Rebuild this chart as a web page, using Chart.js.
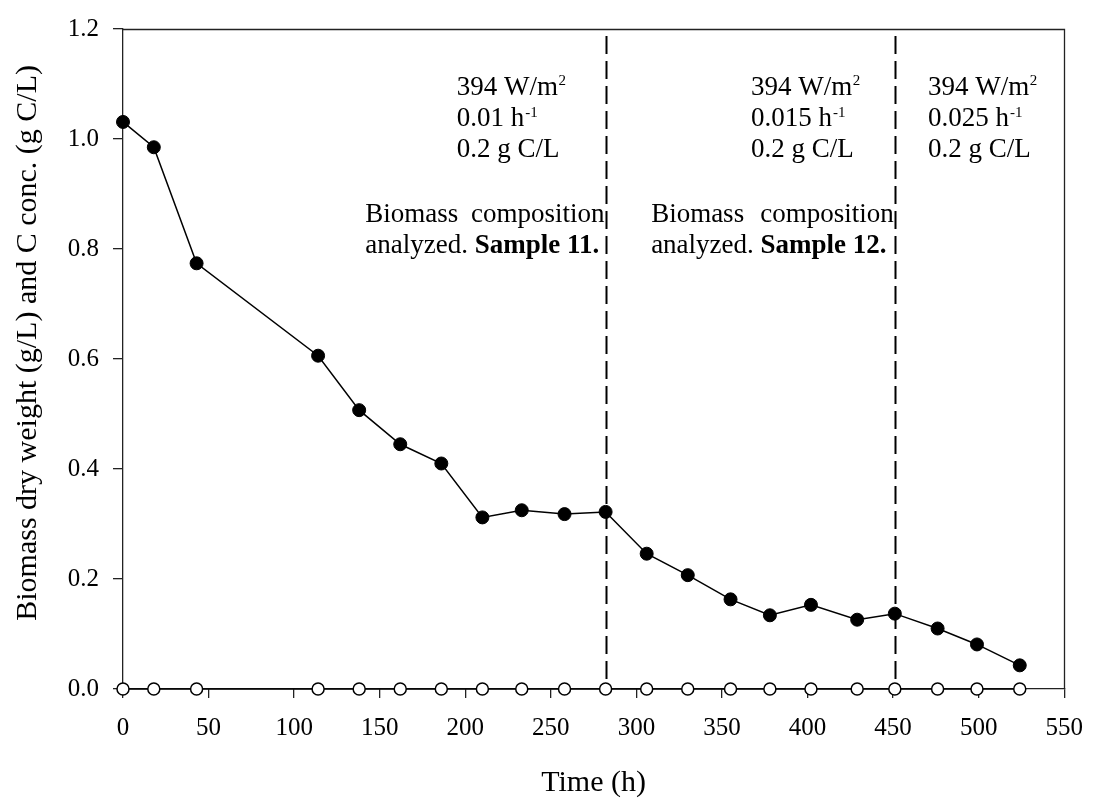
<!DOCTYPE html>
<html>
<head>
<meta charset="utf-8">
<script src="https://cdn.jsdelivr.net/npm/chart.js@4/dist/chart.umd.min.js"></script>
<style>
html,body{margin:0;padding:0;background:#fff;}
#wrap{width:1098px;height:798px;}
</style>
</head>
<body>
<div id="wrap"><canvas id="c" width="1098" height="798"></canvas></div>
<script>
// ---- data ----
const timeH   = [0, 18, 43, 114, 138, 162, 186, 210, 233, 258, 282, 306, 330, 355, 378, 402, 429, 451, 476, 499, 524];
const biomass = [1.031, 0.985, 0.774, 0.606, 0.507, 0.445, 0.410, 0.312, 0.325, 0.318, 0.322, 0.246, 0.207, 0.163, 0.134, 0.153, 0.126, 0.137, 0.110, 0.081, 0.043];
const carbon  = [0, 0, 0, 0, 0, 0, 0, 0, 0, 0, 0, 0, 0, 0, 0, 0, 0, 0, 0, 0, 0];
const xTicks  = [0, 50, 100, 150, 200, 250, 300, 350, 400, 450, 500, 550];
const yTicks  = [0, 0.2, 0.4, 0.6, 0.8, 1.0, 1.2];
const phaseLines = [282, 451];

// annotation text (anchored in data units)
const condX      = [195, 367, 470.4];
const condPower  = ['394 W/m', '394 W/m', '394 W/m'];
const condRate   = ['0.01 h', '0.015 h', '0.025 h'];
const condConc   = ['0.2 g C/L', '0.2 g C/L', '0.2 g C/L'];
const condLineY  = [1.080, 1.023, 0.967];
const sampleX    = [141.6, 308.6];
const sampleName = ['Sample 11.', 'Sample 12.'];
const sampleLineY = [0.849, 0.792];

const xTitle = 'Time (h)';
const yTitle = 'Biomass dry weight (g/L) and C conc. (g C/L)';

const SERIF = '"Liberation Serif", "Times New Roman", serif';
const AXIS = '#222';

const overlay = {
  id: 'overlay',
  beforeDatasetsDraw(chart) {
    const {ctx, chartArea: a, scales: {x}} = chart;
    ctx.save();
    ctx.strokeStyle = '#000';
    ctx.lineWidth = 2;
    ctx.setLineDash([18, 7]);
    phaseLines.forEach(v => {
      const px = Math.round(x.getPixelForValue(v)) + 0.5;
      ctx.beginPath();
      ctx.moveTo(px, a.top + 7);
      ctx.lineTo(px, a.bottom);
      ctx.stroke();
    });
    ctx.restore();
  },
  afterDraw(chart) {
    const {ctx, chartArea: a, scales: {x, y}} = chart;
    ctx.save();
    // frame top & right
    ctx.strokeStyle = AXIS;
    ctx.lineWidth = 1.3;
    ctx.beginPath();
    ctx.moveTo(a.left, Math.round(a.top) + 0.5);
    ctx.lineTo(Math.round(a.right) + 0.5, Math.round(a.top) + 0.5);
    ctx.lineTo(Math.round(a.right) + 0.5, a.bottom);
    ctx.stroke();

    ctx.fillStyle = '#000';
    ctx.textBaseline = 'alphabetic';
    const F = 27;
    const main = F + 'px ' + SERIF;
    const sup = '15px ' + SERIF;
    const bold = 'bold ' + F + 'px ' + SERIF;

    // condition blocks
    condX.forEach((cx, i) => {
      const px = x.getPixelForValue(cx);
      const b0 = y.getPixelForValue(condLineY[0]);
      const b1 = y.getPixelForValue(condLineY[1]);
      const b2 = y.getPixelForValue(condLineY[2]);
      ctx.textAlign = 'left';
      ctx.font = main;
      ctx.fillText(condPower[i], px, b0);
      let w = ctx.measureText(condPower[i]).width;
      ctx.font = sup;
      ctx.fillText('2', px + w + 0.5, b0 - 10);
      ctx.font = main;
      ctx.fillText(condRate[i], px, b1);
      w = ctx.measureText(condRate[i]).width;
      ctx.font = sup;
      ctx.fillText('-1', px + w + 1, b1 - 9);
      ctx.font = main;
      ctx.fillText(condConc[i], px, b2);
    });

    // sample blocks (justified first line)
    sampleX.forEach((sx, i) => {
      const px = x.getPixelForValue(sx);
      const right = x.getPixelForValue(phaseLines[i]) - 1;
      const b0 = y.getPixelForValue(sampleLineY[0]);
      const b1 = y.getPixelForValue(sampleLineY[1]);
      ctx.font = main;
      ctx.textAlign = 'left';
      ctx.fillText('Biomass', px, b0);
      ctx.textAlign = 'right';
      ctx.fillText('composition', right, b0);
      ctx.textAlign = 'left';
      const t = 'analyzed. ';
      ctx.fillText(t, px, b1);
      const w = ctx.measureText(t).width;
      ctx.font = bold;
      ctx.fillText(sampleName[i], px + w, b1);
    });

    // axis titles
    ctx.font = '30px ' + SERIF;
    ctx.textAlign = 'center';
    ctx.fillText(xTitle, (a.left + a.right) / 2, 791);
    ctx.translate(36, 65);
    ctx.rotate(-Math.PI / 2);
    ctx.textAlign = 'right';
    ctx.fillText(yTitle, 0, 0);
    ctx.restore();
  }
};

new Chart(document.getElementById('c'), {
  type: 'line',
  data: {
    datasets: [
      {
        label: 'C conc.',
        data: timeH.map((t, i) => ({x: t, y: carbon[i]})),
        borderColor: '#000',
        borderWidth: 1.5,
        pointRadius: 6,
        pointBackgroundColor: '#fff',
        pointBorderColor: '#000',
        pointBorderWidth: 1.5,
        tension: 0,
        clip: false,
        order: 1
      },
      {
        label: 'Biomass',
        data: timeH.map((t, i) => ({x: t, y: biomass[i]})),
        borderColor: '#000',
        borderWidth: 1.5,
        pointRadius: 6.5,
        pointBackgroundColor: '#000',
        pointBorderColor: '#000',
        pointBorderWidth: 1,
        tension: 0,
        clip: false,
        order: 0
      }
    ]
  },
  options: {
    responsive: false,
    animation: false,
    events: [],
    layout: {padding: {top: 23, right: 23, left: 0, bottom: 0}},
    plugins: {legend: {display: false}, tooltip: {enabled: false}},
    scales: {
      x: {
        type: 'linear',
        min: 0, max: 550,
        afterBuildTicks: s => { s.ticks = xTicks.map(v => ({value: v})); },
        afterFit: s => { s.height = 109; },
        grid: {drawOnChartArea: false, tickLength: 9, color: AXIS, lineWidth: 1.3},
        border: {color: AXIS, width: 1.3},
        ticks: {font: {family: SERIF, size: 25}, color: '#000', padding: 15, maxRotation: 0, autoSkip: false},
        title: {display: false}
      },
      y: {
        type: 'linear',
        min: 0, max: 1.2,
        afterBuildTicks: s => { s.ticks = yTicks.map(v => ({value: v})); },
        afterFit: s => { s.width = 123; },
        grid: {drawOnChartArea: false, tickLength: 10, color: AXIS, lineWidth: 1.3},
        border: {color: AXIS, width: 1.3},
        ticks: {font: {family: SERIF, size: 25}, color: '#000', padding: 14, autoSkip: false,
                callback: v => Number(v).toFixed(1)},
        title: {display: false}
      }
    }
  },
  plugins: [overlay]
});
</script>
</body>
</html>
